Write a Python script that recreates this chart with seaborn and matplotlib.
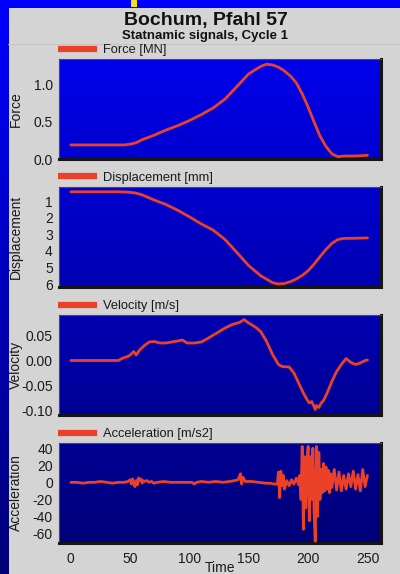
import numpy as np
import pandas as pd
import matplotlib
matplotlib.use("Agg")
import matplotlib.pyplot as plt
from matplotlib.patches import Rectangle
import seaborn as sns

# ---------------- data ----------------
force_time = [0, 10, 20, 30, 40, 45, 50, 55, 60, 70, 80, 90, 100, 110, 120, 130, 140,
              150, 160, 165, 170, 175, 180, 185, 190, 195, 200, 205, 210, 215, 220,
              225, 230, 240, 250]
force_value = [0.19, 0.19, 0.19, 0.19, 0.19, 0.19, 0.20, 0.22, 0.26, 0.32, 0.39, 0.45,
               0.52, 0.60, 0.69, 0.81, 0.98, 1.15, 1.25, 1.28, 1.27, 1.24, 1.19, 1.12,
               1.03, 0.88, 0.70, 0.50, 0.31, 0.17, 0.07, 0.03, 0.04, 0.04, 0.05]

disp_time = [0, 10, 20, 30, 40, 45, 50, 55, 60, 70, 80, 90, 100, 110, 120, 130, 140,
             150, 160, 170, 175, 180, 185, 190, 195, 200, 205, 210, 215, 220, 225,
             230, 240, 250]
disp_value = [0.44, 0.44, 0.44, 0.44, 0.44, 0.45, 0.47, 0.52, 0.62, 0.93, 1.20, 1.55,
              1.95, 2.38, 2.75, 3.32, 4.10, 4.90, 5.50, 5.92, 6.00, 5.97, 5.86, 5.70,
              5.48, 5.20, 4.80, 4.35, 3.92, 3.55, 3.32, 3.25, 3.24, 3.22]

vel_time = [0, 10, 20, 30, 40, 44, 48, 50, 53, 55, 58, 62, 66, 70, 75, 80, 85, 90, 94,
            98, 104, 110, 116, 123, 130, 136, 142, 146, 148, 152, 156, 160, 165, 170,
            175, 178, 184, 188, 192, 196, 199, 201, 203, 205, 206, 207, 209, 211, 213,
            216, 220, 224, 228, 232, 236, 240, 244, 248, 250]
vel_value = [0.0, 0.0, 0.0, 0.0, 0.0, 0.005, 0.008, 0.011, 0.018, 0.011, 0.021, 0.030,
             0.037, 0.038, 0.035, 0.035, 0.037, 0.039, 0.041, 0.035, 0.035, 0.037,
             0.045, 0.055, 0.065, 0.072, 0.076, 0.082, 0.078, 0.072, 0.066, 0.058,
             0.038, 0.012, -0.008, -0.012, -0.013, -0.025, -0.045, -0.065, -0.078,
             -0.085, -0.082, -0.092, -0.098, -0.090, -0.094, -0.085, -0.080, -0.065,
             -0.042, -0.022, -0.008, 0.004, -0.004, -0.008, -0.005, 0.0, 0.001]

acc_time = [0, 5, 10, 15, 20, 25, 30, 35, 40, 45, 48, 50, 51, 52,
            53, 54, 55, 56, 57, 58, 59, 60, 61, 62, 64, 66, 68, 70, 73, 78, 84,
            90, 96, 102, 104, 106, 110, 116, 122, 128,
            134, 138, 141, 143, 144, 145, 147, 152, 158, 164, 168,
            171, 174, 175, 176, 177, 178, 179, 180, 182, 184, 186, 188, 190, 192, 193,
            194, 195, 196, 197, 198, 199, 200, 201, 202, 203, 204, 205, 206, 207, 208,
            209, 210, 211, 212, 213, 214, 215, 216, 217, 218, 219, 220, 222, 224, 226,
            228, 230, 232, 234, 236, 238, 240, 242, 244, 246, 248, 250]
acc_value = [0, 0, -1, 0, 0, 1, 0, -1, 0, 0, 1, 3, -2, 4,
             -1, -5, 2, -3, 5, 2, 4, -1, 2, 1, 2, 0, 1, -1, 0, 1, 0,
             0, 0, 0, -2, 0, 1, 0, 1, 0,
             1, 2, 3, 10, -2, 6, 1, 1, 0, -1, -1,
             -2, -2, 12, -18, 13, -4, 8, -8, 2, -4, 3, -2, 5, -3, 8,
             -20, 42, -55, 30, -30, 20, 42, -45, 30, -20, 40, -35, -69, 42, -40,
             35, -20, 15, -12, 22, -10, 18, -8, 14, -12, 10, -6, 15, -9, 12,
             -10, 8, -8, 10, -5, 13, -8, 9, -10, 15, -5, 8]

x_ticks = [0, 50, 100, 150, 200, 250]
force_ticks = [0.0, 0.5, 1.0]
force_ticklabels = ["0.0", "0.5", "1.0"]
disp_ticks = [1, 2, 3, 4, 5, 6]
disp_ticklabels = ["1", "2", "3", "4", "5", "6"]
vel_ticks = [0.05, 0.0, -0.05, -0.10]
vel_ticklabels = ["0.05", "0.00", "-0.05", "-0.10"]
acc_ticks = [40, 20, 0, -20, -40, -60]
acc_ticklabels = ["40", "20", "0", "-20", "-40", "-60"]

panel_labels = ["Force", "Displacement", "Velocity", "Acceleration"]
legend_labels = ["Force [MN]", "Displacement [mm]", "Velocity [m/s]", "Acceleration [m/s2]"]
title = "Bochum, Pfahl 57"
subtitle = "Statnamic signals, Cycle 1"
xlabel = "Time"

# ---------------- style ----------------
sns.set_style("white")
plt.rcParams["font.family"] = ["Liberation Sans", "DejaVu Sans"]
plt.rcParams["axes.unicode_minus"] = False

W, H = 400, 574
GRAY = "#d4d4d4"
LINE = "#ea4128"
TXT = "#1a1a1a"

fig = plt.figure(figsize=(W / 100, H / 100), dpi=100)
fig.patch.set_facecolor(GRAY)

# background decoration (slide frame)
bg = fig.add_axes([0, 0, 1, 1], zorder=-10)
bg.axis("off")
def blue_at(ypx):
    return (255 - (255 - 120) * ypx / H) / 255.0
strip = np.zeros((256, 1, 3))
strip[:, 0, 2] = np.linspace(blue_at(0), blue_at(H), 256)
bg.imshow(strip, extent=(0, 8.3, H, 0), aspect="auto", interpolation="bilinear", zorder=1)
bg.add_patch(Rectangle((0, 0), W, 8.3, color="#0000ff", lw=0, zorder=2))
bg.add_patch(Rectangle((131, 0), 5.7, 6.7, color="#f2e21c", lw=0, zorder=3))
bg.plot([8.3, W], [43.5, 43.5], color="#c4c4c4", lw=0.7, zorder=2)
bg.set_xlim(0, W)
bg.set_ylim(H, 0)

fig.text(206 / W, 1 - 20 / H, title, ha="center", va="center",
         fontsize=14, fontweight="bold", color="#111111")
fig.text(205 / W, 1 - 36.5 / H, subtitle, ha="center", va="center",
         fontsize=9.5, fontweight="bold", color="#111111")

left_px, right_px = 59, 380.5
tops = [59, 187, 315, 443]
hgt = 100

series = [
    (force_time, force_value, (0, 1.35), force_ticks, force_ticklabels),
    (disp_time, disp_value, (6.18, 0.15), disp_ticks, disp_ticklabels),
    (vel_time, vel_value, (-0.109, 0.091), vel_ticks, vel_ticklabels),
    (acc_time, acc_value, (-71, 46), acc_ticks, acc_ticklabels),
]

for i, (t, v, ylim, yt, ytl) in enumerate(series):
    top = tops[i]
    ax = fig.add_axes([left_px / W, 1 - (top + hgt) / H,
                       (right_px - left_px) / W, hgt / H])
    face = np.zeros((128, 1, 3))
    face[:, 0, 2] = np.linspace(blue_at(top) * 0.98, blue_at(top + hgt) * 0.95, 128)
    ax.imshow(face, extent=(0, 1, 0, 1), transform=ax.transAxes, aspect="auto",
              interpolation="bilinear", zorder=0)
    df = pd.DataFrame({"Time": t, "value": v})
    sns.lineplot(data=df, x="Time", y="value", ax=ax, color=LINE, linewidth=2.0,
                 estimator=None, sort=True, label=legend_labels[i], zorder=3)
    ax.set_xlim(-10, 261)
    ax.set_ylim(*ylim)
    ax.set_xticks(x_ticks)
    ax.set_xticklabels([str(x) for x in x_ticks])
    ax.set_yticks(yt)
    ax.set_yticklabels(ytl)
    ax.tick_params(axis="both", length=0, labelsize=10, colors=TXT, pad=4.5)
    ax.tick_params(axis="x", pad=6.5)
    if i < 3:
        ax.tick_params(labelbottom=False)
        ax.set_xlabel("")
    else:
        ax.set_xlabel(xlabel, fontsize=10, color=TXT)
        ax.xaxis.set_label_coords(0.5, -0.178)
    ax.set_ylabel(panel_labels[i], fontsize=10, color=TXT)
    ax.yaxis.set_label_coords((23 - left_px) / (right_px - left_px), 0.5)
    for s in ["left", "top"]:
        ax.spines[s].set_color("#4a4a4a")
        ax.spines[s].set_linewidth(0.8)
    for s in ["right", "bottom"]:
        ax.spines[s].set_color("#151515")
        ax.spines[s].set_linewidth(2.2)
    ax.grid(False)
    leg = ax.legend(loc="center left", bbox_to_anchor=((58 - left_px) / (right_px - left_px), 1.09),
                    frameon=False, borderpad=0, borderaxespad=0, handlelength=3.0,
                    handletextpad=0.45, fontsize=9.3)
    for h in leg.get_lines():
        h.set_linewidth(4.5)
        h.set_color(LINE)
        h.set_solid_capstyle("butt")
    for txt in leg.get_texts():
        txt.set_color(TXT)

fig.savefig("out.png", dpi=100, facecolor=GRAY)
